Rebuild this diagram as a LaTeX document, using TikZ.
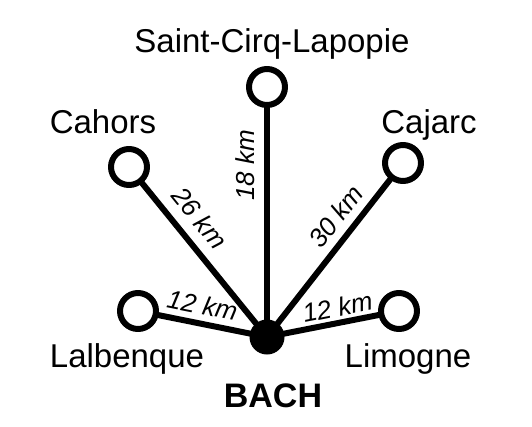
\documentclass[tikz,border=0pt]{standalone}
\usepackage{fontspec}
\setmainfont{Liberation Sans}
\begin{document}
\begin{tikzpicture}[x=1pt,y=-1pt,line join=round,
	town/.style={circle,draw,line width=6pt,fill=white,minimum size=36pt,inner sep=0pt,outer sep=0pt},
	hub/.style={circle,fill,minimum size=35pt,inner sep=0pt,outer sep=0pt},
	road/.style={line width=6pt},
	townname/.style={anchor=base,inner sep=0pt,font=\fontsize{33}{40}\selectfont},
	km/.style={sloped,inner sep=0pt,font=\fontsize{26}{31}\selectfont\itshape}]
	\useasboundingbox (0,0) rectangle (532,426);
	% towns
	\node[hub] (B) at (267,337) {};
	\node[town] (S) at (267,87) {};
	\node[town] (C) at (129,167) {};
	\node[town] (J) at (403,163) {};
	\node[town] (L) at (138,311) {};
	\node[town] (M) at (399,311) {};
	% names
	\node[townname] (Sn) at (272,52) {Saint-Cirq-Lapopie};
	\node[townname] (Cn) at (103,133) {Cahors};
	\node[townname] (Jn) at (429,133) {Cajarc};
	\node[townname] (Ln) at (127,367) {Lalbenque};
	\node[townname] (Mn) at (408,367) {Limogne};
	\node[townname,font=\fontsize{34}{40}\selectfont\bfseries] (Bn) at (273,407) {BACH};
	% roads
	\draw[road] (B.center) -- (S) node[km,pos=.74,above=9.7pt] (dS) {18 km};
	\draw[road] (C) -- (B.center) node[km,pos=.33,above=10pt] (dC) {26 km};
	\draw[road] (B.center) -- (J) node[km,pos=.677,above=7.7pt] (dJ) {30 km};
	\draw[road] (L) -- (B.center) node[km,pos=.388,above=6.3pt] (dL) {12 km};
	\draw[road] (B.center) -- (M) node[km,pos=.643,above=3.5pt] (dM) {12 km};
\end{tikzpicture}
\end{document}
